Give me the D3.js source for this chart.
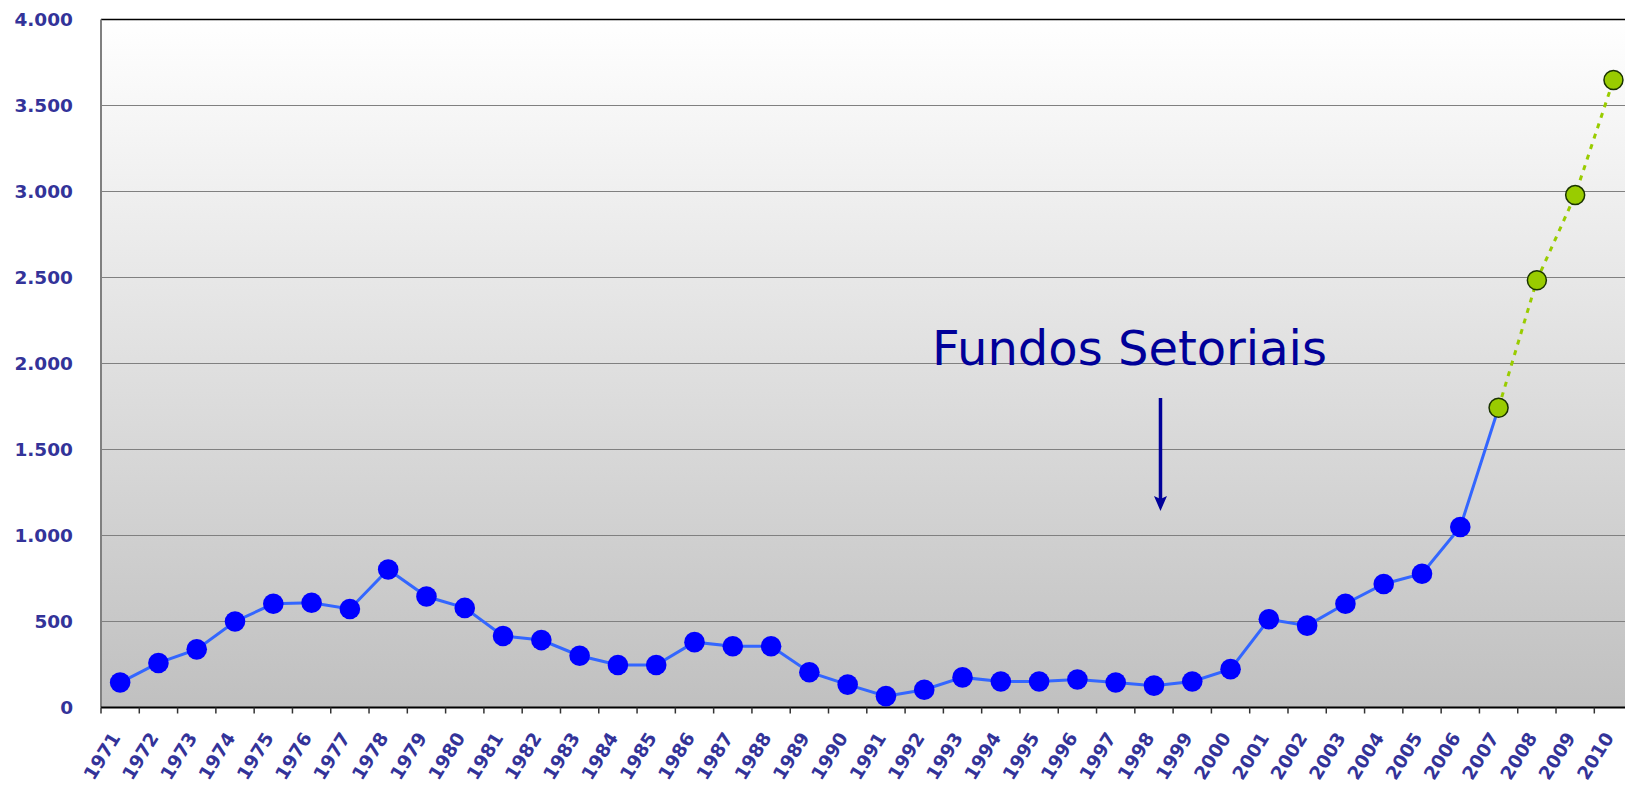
<!DOCTYPE html>
<html>
  <head>
    <meta charset="UTF-8" />
    <title>Fundos Setoriais</title>
    <script src="https://d3js.org/d3.v7.min.js"></script>
    <style>
      body { margin: 0; background: #fff; }
      svg { display: block; }
    </style>
  </head>
  <body>
    <div id="chart"></div>
    <script>
      // anos e valores
      const years = d3.range(1971, 2011).map(String);
      const values = [
        145, 259, 338, 500, 603, 609, 573, 802, 645, 579,
        416, 392, 301, 247, 247, 380, 356, 356, 205, 133,
        66, 103, 175, 151, 151, 163, 145, 127, 151, 223,
        513, 476, 603, 718, 778, 1049, 1743, 2484, 2979, 3648,
      ];
      // a partir deste ano a série é projeção (verde, pontilhada)
      const projFrom = "2007";
      const yTicks = [0, 500, 1000, 1500, 2000, 2500, 3000, 3500, 4000];
      const note = { text: "Fundos Setoriais", year: "1998" };

      const data = years.map((y, i) => ({ year: y, value: values[i] }));
      const pi = years.indexOf(projFrom);
      const real = data.slice(0, pi + 1);
      const proj = data.slice(pi);

      const W = 1625, H = 786;
      const mLeft = 101, mRight = 1632.6, mTop = 19.5, mBottom = 707.5;

      const x = d3.scaleBand().domain(years).range([mLeft, mRight]).padding(0);
      const y = d3.scaleLinear().domain([0, 4000]).range([mBottom, mTop]);
      const cx = (d) => x(d.year) + x.bandwidth() / 2;

      const svg = d3.select("#chart").append("svg")
        .attr("width", W).attr("height", H)
        .style("font-family", "'DejaVu Sans', Verdana, sans-serif");

      const defs = svg.append("defs");
      const grad = defs.append("linearGradient")
        .attr("id", "bg").attr("x1", 0).attr("y1", 0).attr("x2", 0).attr("y2", 1);
      grad.append("stop").attr("offset", "0%").attr("stop-color", "#ffffff");
      grad.append("stop").attr("offset", "100%").attr("stop-color", "#c0c0c0");

      svg.append("rect")
        .attr("x", mLeft).attr("y", mTop)
        .attr("width", mRight - mLeft).attr("height", mBottom - mTop)
        .attr("fill", "url(#bg)");

      // linhas de grade
      svg.append("g").selectAll("line")
        .data(yTicks.filter((v) => v > 0 && v < 4000))
        .join("line")
        .attr("x1", mLeft).attr("x2", mRight)
        .attr("y1", (d) => y(d)).attr("y2", (d) => y(d))
        .attr("stroke", "#808080").attr("stroke-width", 1);

      // borda superior
      svg.append("line")
        .attr("x1", mLeft).attr("x2", mRight)
        .attr("y1", y(4000)).attr("y2", y(4000))
        .attr("stroke", "#000").attr("stroke-width", 1.5);

      // eixo Y
      svg.append("line")
        .attr("x1", mLeft).attr("x2", mLeft)
        .attr("y1", mTop).attr("y2", mBottom)
        .attr("stroke", "#808080").attr("stroke-width", 2);

      svg.append("g").selectAll("text")
        .data(yTicks)
        .join("text")
        .attr("x", 73).attr("y", (d) => y(d))
        .attr("dy", "0.36em")
        .attr("text-anchor", "end")
        .attr("fill", "#333399")
        .style("font-weight", "bold")
        .style("font-size", "18.5px")
        .text((d) => d3.format(",")(d).replace(/,/g, "."));

      // eixo X
      svg.append("line")
        .attr("x1", mLeft).attr("x2", mRight)
        .attr("y1", mBottom).attr("y2", mBottom)
        .attr("stroke", "#000").attr("stroke-width", 2);

      svg.append("g").selectAll("line")
        .data(years)
        .join("line")
        .attr("x1", (d) => x(d)).attr("x2", (d) => x(d))
        .attr("y1", mBottom).attr("y2", mBottom + 6)
        .attr("stroke", "#333").attr("stroke-width", 1.5);

      svg.append("g").selectAll("text")
        .data(years)
        .join("text")
        .attr("transform", (d) =>
          `translate(${x(d) + x.bandwidth() / 2 + 1},${mBottom + 30}) rotate(-58)`)
        .attr("text-anchor", "end")
        .attr("fill", "#333399")
        .style("font-weight", "bold")
        .style("font-size", "18.5px")
        .text((d) => d);

      // séries
      const line = d3.line().x(cx).y((d) => y(d.value));

      svg.append("path")
        .datum(real)
        .attr("d", line)
        .attr("fill", "none")
        .attr("stroke", "#3366ff")
        .attr("stroke-width", 3);

      svg.append("path")
        .datum(proj)
        .attr("d", line)
        .attr("fill", "none")
        .attr("stroke", "#99cc00")
        .attr("stroke-width", 3)
        .attr("stroke-dasharray", "5,6");

      svg.append("g").selectAll("circle")
        .data(data.slice(0, pi))
        .join("circle")
        .attr("cx", cx).attr("cy", (d) => y(d.value))
        .attr("r", 10.3)
        .attr("fill", "#0000ff");

      svg.append("g").selectAll("circle")
        .data(proj)
        .join("circle")
        .attr("cx", cx).attr("cy", (d) => y(d.value))
        .attr("r", 9.5)
        .attr("fill", "#99cc00")
        .attr("stroke", "#1a3300")
        .attr("stroke-width", 1.5);

      // anotação
      const ax = x(note.year) + x.bandwidth() * 0.67;
      svg.append("text")
        .attr("x", ax - 31).attr("y", 365)
        .attr("text-anchor", "middle")
        .attr("fill", "#000099")
        .style("font-size", "48px")
        .text(note.text);

      svg.append("line")
        .attr("x1", ax).attr("x2", ax)
        .attr("y1", 398).attr("y2", 502)
        .attr("stroke", "#000099").attr("stroke-width", 3.5);

      svg.append("path")
        .attr("d", `M${ax - 6.5},${496} L${ax},${511} L${ax + 6.5},${496} L${ax},${499} Z`)
        .attr("fill", "#000099");
    </script>
  </body>
</html>
